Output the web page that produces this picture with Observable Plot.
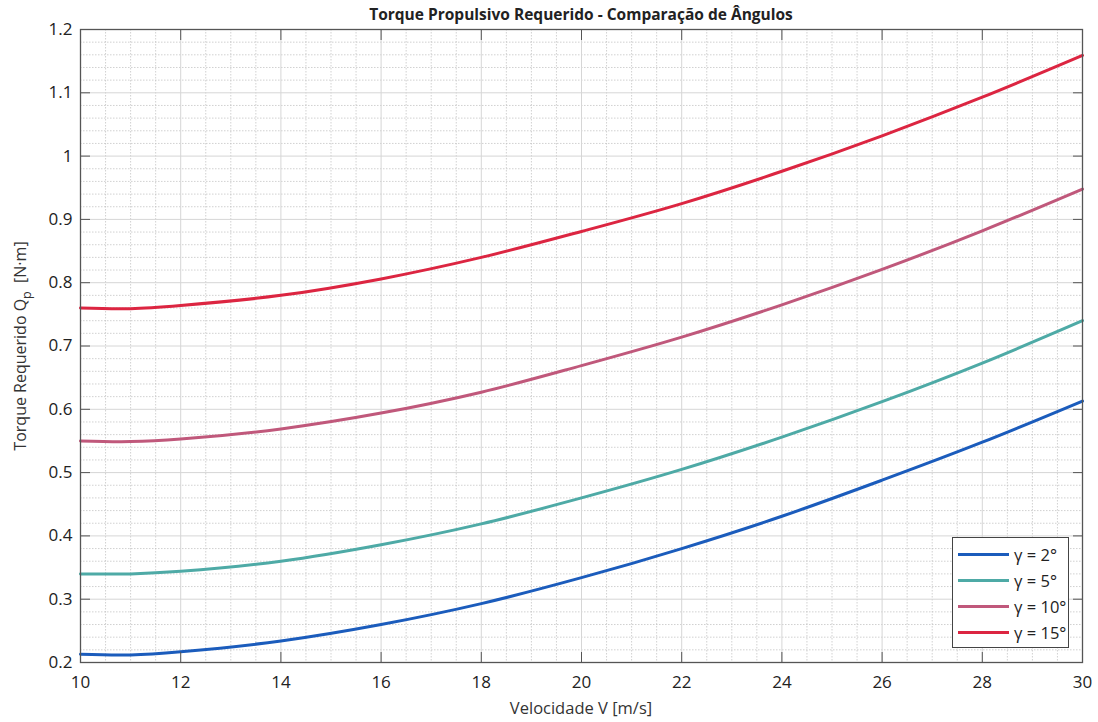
<!DOCTYPE html>
<html>
<head>
<meta charset="utf-8">
<script src="https://cdn.jsdelivr.net/npm/d3@7"></script>
<script src="https://cdn.jsdelivr.net/npm/@observablehq/plot@0.6"></script>
<style>
  html, body { margin: 0; padding: 0; background: #fff; }
  #wrap { position: relative; width: 1098px; height: 722px; font-family: "Open Sans", sans-serif; }
  #chart { position: absolute; left: 0; top: 0; }
  #legend { position: absolute; left: 952px; top: 537px; width: 115px; height: 109px; border: 1px solid #444; background: #fff; box-sizing: content-box; }
  .item { position: absolute; left: 0; height: 20px; display: flex; align-items: center; font-size: 16.5px; color: #222; }
  .item .sw { width: 51px; height: 3px; margin-left: 5px; margin-right: 5px; }
</style>
</head>
<body>
<div id="wrap">
  <div id="chart"></div>
  <div id="legend"></div>
</div>
<script>
// Velocity (m/s)
const V = [10, 11, 12, 14, 16, 18, 20, 22, 24, 26, 28, 30];
// Torque series (N·m) per angle
const q2  = [0.213, 0.212, 0.217, 0.234, 0.260, 0.293, 0.334, 0.380, 0.431, 0.488, 0.548, 0.613];
const q5  = [0.340, 0.340, 0.344, 0.360, 0.386, 0.419, 0.460, 0.505, 0.556, 0.612, 0.673, 0.740];
const q10 = [0.550, 0.549, 0.553, 0.569, 0.594, 0.627, 0.669, 0.714, 0.765, 0.821, 0.882, 0.948];
const q15 = [0.760, 0.759, 0.764, 0.780, 0.806, 0.840, 0.881, 0.925, 0.976, 1.032, 1.093, 1.159];
const seriesNames = ["γ = 2°", "γ = 5°", "γ = 10°", "γ = 15°"];
const seriesColors = ["#1b5cbc", "#4eaaa6", "#c0587b", "#dc2541"];
const xTicks = [10, 12, 14, 16, 18, 20, 22, 24, 26, 28, 30];
const yTicks = [0.2, 0.3, 0.4, 0.5, 0.6, 0.7, 0.8, 0.9, 1.0, 1.1, 1.2];
const yTickLabels = ["0.2", "0.3", "0.4", "0.5", "0.6", "0.7", "0.8", "0.9", "1", "1.1", "1.2"];
const titleText = "Torque Propulsivo Requerido - Comparação de Ângulos";
const xLabel = "Velocidade V [m/s]";

const allSeries = [q2, q5, q10, q15];
const data = [];
allSeries.forEach((s, i) => s.forEach((q, j) => data.push({V: V[j], Q: q, g: seriesNames[i]})));

const minorX = d3.range(10, 30.001, 0.5).filter(v => Math.abs(v % 2) > 1e-6);
const minorY = d3.range(0, 51).map(i => 0.2 + i * 0.02).filter((v, i) => i % 5 !== 0);

const fmtY = d => yTickLabels[yTicks.findIndex(t => Math.abs(t - d) < 1e-9)];

const plot = Plot.plot({
  width: 1098,
  height: 722,
  marginTop: 29,
  marginLeft: 80,
  marginRight: 16,
  marginBottom: 60,
  style: { fontFamily: "Open Sans, sans-serif", fontSize: "17px", color: "#222", background: "#fff" },
  x: { domain: [10, 30] },
  y: { domain: [0.2, 1.2] },
  color: { domain: seriesNames, range: seriesColors },
  marks: [
    Plot.gridX(minorX, { stroke: "#bdbdbd", strokeOpacity: 0.7, strokeDasharray: "1.5,1.5" }),
    Plot.gridY(minorY, { stroke: "#bdbdbd", strokeOpacity: 0.7, strokeDasharray: "1.5,1.5" }),
    Plot.gridX(xTicks, { stroke: "#d6d6d6", strokeOpacity: 1 }),
    Plot.gridY(yTicks, { stroke: "#d6d6d6", strokeOpacity: 1 }),
    Plot.line(data, { x: "V", y: "Q", z: "g", stroke: "g", strokeWidth: 3, curve: "catmull-rom" }),
    Plot.frame({ stroke: "#555", strokeWidth: 1.3 }),
    Plot.axisX(xTicks, { anchor: "bottom", tickSize: -10, tickPadding: 23, stroke: "#555", label: null, tickFormat: d => String(d) }),
    Plot.axisX(xTicks, { anchor: "top", tickSize: -10, tickPadding: 0, stroke: "#555", label: null, tickFormat: () => "" }),
    Plot.axisY(yTicks, { anchor: "left", tickSize: -10, tickPadding: 18, stroke: "#555", label: null, tickFormat: fmtY }),
    Plot.axisY(yTicks, { anchor: "right", tickSize: -10, tickPadding: 0, stroke: "#555", label: null, tickFormat: () => "" })
  ]
});
document.getElementById("chart").appendChild(plot);

// Title and axis labels
const svg = d3.select(plot);
svg.append("text")
  .attr("x", 581).attr("y", 20)
  .attr("text-anchor", "middle")
  .attr("font-size", 15.5).attr("font-weight", "bold").attr("fill", "#222")
  .text(titleText);
svg.append("text")
  .attr("x", 581).attr("y", 714)
  .attr("text-anchor", "middle")
  .attr("font-size", 16.5).attr("fill", "#333")
  .text(xLabel);
const yl = svg.append("text")
  .attr("transform", "translate(26,346) rotate(-90)")
  .attr("text-anchor", "middle")
  .attr("font-size", 16).attr("fill", "#333");
yl.append("tspan").text("Torque Requerido Q");
yl.append("tspan").attr("font-size", 12.5).attr("dy", 5).text("p");
yl.append("tspan").attr("dy", -5).text("  [N·m]");

// Legend
const legend = document.getElementById("legend");
seriesNames.forEach((name, i) => {
  const it = document.createElement("div");
  it.className = "item";
  it.style.top = (6 + i * 26.3) + "px";
  const sw = document.createElement("span");
  sw.className = "sw";
  sw.style.background = seriesColors[i];
  const t = document.createElement("span");
  t.textContent = name;
  it.appendChild(sw); it.appendChild(t);
  legend.appendChild(it);
});
</script>
</body>
</html>
